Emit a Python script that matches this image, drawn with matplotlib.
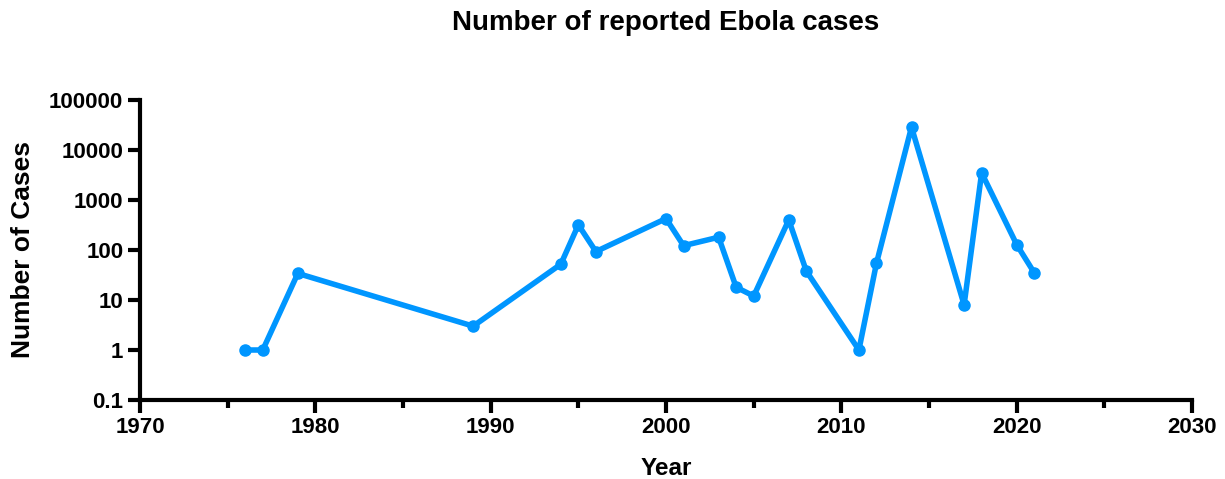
import matplotlib
matplotlib.use("Agg")
import matplotlib.pyplot as plt
from matplotlib.ticker import FixedLocator, FixedFormatter, NullFormatter

years = [1976, 1977, 1979, 1989, 1994, 1995, 1996, 2000, 2001, 2003, 2004,
         2005, 2007, 2008, 2011, 2012, 2014, 2017, 2018, 2020, 2021]
cases = [1, 1, 34, 3, 52, 318, 93, 425, 122, 180, 18,
         12, 399, 38, 1, 54, 28600, 8, 3480, 128, 35]

y_ticks = [0.1, 1, 10, 100, 1000, 10000, 100000]
y_tick_labels = ["0.1", "1", "10", "100", "1000", "10000", "100000"]
x_major = [1970, 1980, 1990, 2000, 2010, 2020, 2030]
x_minor = [1975, 1985, 1995, 2005, 2015, 2025]

plt.rcParams['font.family'] = ['Liberation Sans', 'DejaVu Sans']
plt.rcParams['font.weight'] = 'bold'

fig = plt.figure(figsize=(12.25, 4.79), dpi=100)
ax = fig.add_axes([0.1143, 0.1649, 0.8588, 0.6264])

ax.plot(years, cases, color='#0096FF', lw=4.0, marker='o', ms=8,
        solid_joinstyle='round', solid_capstyle='round', clip_on=False, zorder=3)

ax.set_yscale('log')
ax.set_ylim(0.1, 100000)
ax.set_xlim(1970, 2030)

ax.yaxis.set_major_locator(FixedLocator(y_ticks))
ax.yaxis.set_major_formatter(FixedFormatter(y_tick_labels))
ax.yaxis.set_minor_locator(FixedLocator([]))
ax.xaxis.set_major_locator(FixedLocator(x_major))
ax.xaxis.set_minor_locator(FixedLocator(x_minor))
ax.xaxis.set_minor_formatter(NullFormatter())

for side in ('top', 'right'):
    ax.spines[side].set_visible(False)
for side in ('left', 'bottom'):
    ax.spines[side].set_linewidth(3.0)
    ax.spines[side].set_capstyle('projecting')

ax.tick_params(axis='both', which='major', width=3.0, length=9, labelsize=16, pad=3)
ax.tick_params(axis='x', which='minor', width=3.0, length=5.5)
for lbl in ax.get_xticklabels() + ax.get_yticklabels():
    lbl.set_fontweight('bold')

ax.set_xlabel('Year', fontsize=17.5, fontweight='bold', va='center')
ax.xaxis.set_label_coords(0.5, -0.227)
ax.set_ylabel('Number of Cases', fontsize=19, fontweight='bold', va='center')
ax.yaxis.set_label_coords(-0.111, 0.5)

fig.text(0.5435, 1 - 23 / 479, 'Number of reported Ebola cases',
         ha='center', va='center', fontsize=20, fontweight='bold')

fig.savefig('out.png', dpi=100)
